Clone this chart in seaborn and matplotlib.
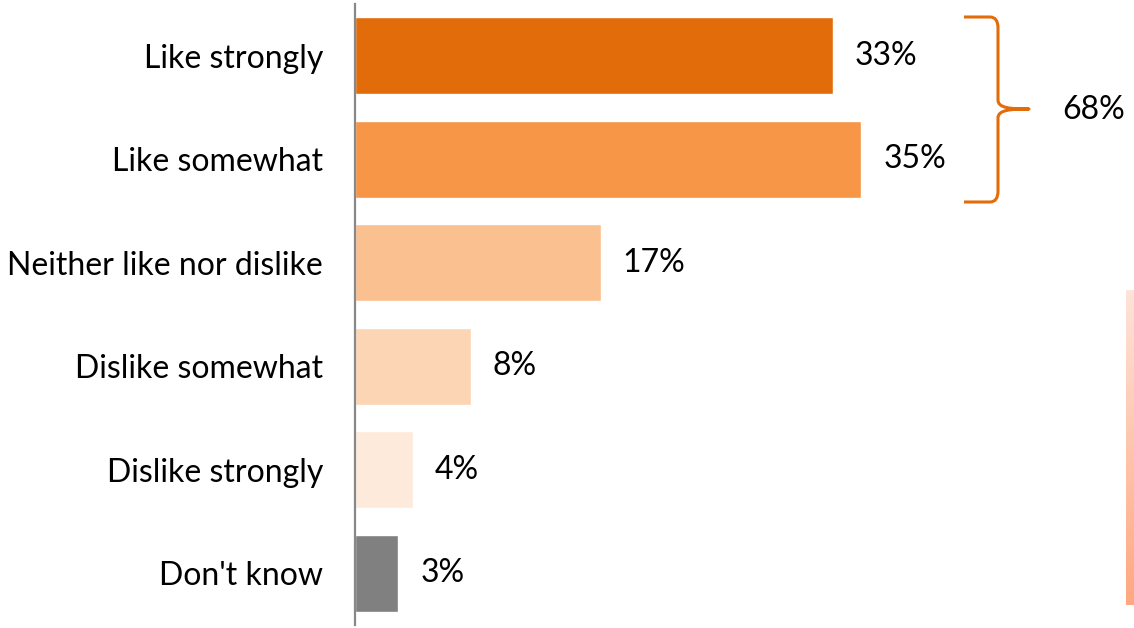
import matplotlib
matplotlib.use("Agg")
import matplotlib.pyplot as plt
import seaborn as sns
import numpy as np
import pandas as pd
from matplotlib.path import Path
from matplotlib.patches import PathPatch
from matplotlib.colors import LinearSegmentedColormap

categories = ["Like strongly", "Like somewhat", "Neither like nor dislike",
              "Dislike somewhat", "Dislike strongly", "Don't know"]
values = [33, 35, 17, 8, 4, 3]
colors = ["#E36C0A", "#F79646", "#FAC090", "#FCD5B5", "#FDEADA", "#808080"]
total_label = "68%"

sns.set_theme(style="white")
plt.rcParams["font.family"] = ["Lato", "DejaVu Sans"]

W, H = 1134, 628
fig = plt.figure(figsize=(W / 100, H / 100), dpi=100)
ax = fig.add_axes([355 / W, 3 / H, 1 - 355 / W, 621 / H])

df = pd.DataFrame({"cat": categories, "val": values})
sns.barplot(data=df, y="cat", x="val", hue="cat", palette=colors,
            legend=False, ax=ax, width=0.74, orient="h", saturation=1)

xmax = (W - 355) / 14.47
ax.set_xlim(0, xmax)
ax.set_ylim(5.5, -0.5)
ax.set_xlabel("")
ax.set_ylabel("")
ax.set_xticks([])
for s in ["top", "right", "bottom"]:
    ax.spines[s].set_visible(False)
ax.spines["left"].set_color("#888888")
ax.spines["left"].set_linewidth(1.6)
ax.tick_params(axis="y", length=0, pad=23, labelsize=23, labelcolor="black")

for i, v in enumerate(values):
    ax.text(v + 1.5, i, f"{v}%", va="center", ha="left", fontsize=23, color="black")

# Curly bracket (figure pixel coordinates -> figure fraction)
def fp(x, y):
    return (x / W, 1 - y / H)

pts = [
    (964, 17), (990, 17), (998, 17), (998, 28),
    (998, 100),
    (998, 108), (1010, 109), (1029, 109),
    (1010, 109), (998, 110), (998, 118),
    (998, 191),
    (998, 202), (990, 202), (964, 202),
]
codes = [Path.MOVETO, Path.LINETO, Path.CURVE3, Path.CURVE3,
         Path.LINETO,
         Path.CURVE4, Path.CURVE4, Path.CURVE4,
         Path.CURVE4, Path.CURVE4, Path.CURVE4,
         Path.LINETO,
         Path.CURVE3, Path.CURVE3, Path.LINETO]
path = Path([fp(*p) for p in pts], codes)
fig.patches.append(PathPatch(path, transform=fig.transFigure, fill=False,
                             edgecolor="#E36C0A", linewidth=2.2,
                             capstyle="butt", joinstyle="round"))
fig.text(*fp(1062, 110), total_label, ha="left", va="center", fontsize=23, color="black")

# Gradient strip at right edge
gax = fig.add_axes([1126 / W, 1 - 605 / H, 8 / W, 315 / H])
cmap = LinearSegmentedColormap.from_list("g", ["#FDE3DA", "#FFA880"])
gax.imshow(np.linspace(0, 1, 100).reshape(-1, 1), aspect="auto", cmap=cmap)
gax.axis("off")

fig.savefig("out.png", dpi=100)
